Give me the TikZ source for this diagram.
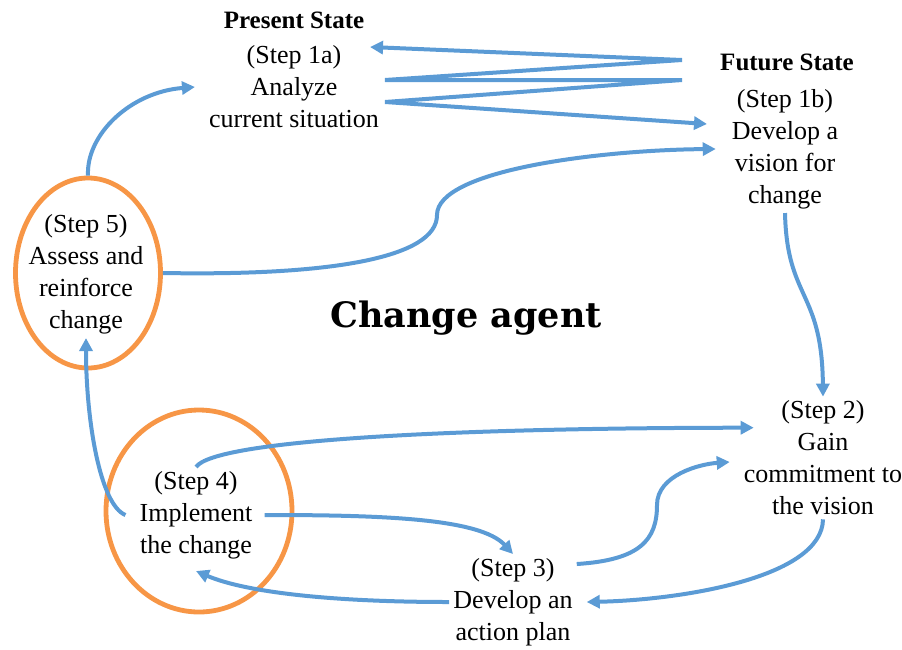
\documentclass[tikz,border=0pt]{standalone}
\usepackage{fontspec}
\setmainfont{Liberation Serif}
\newfontfamily\agentfont{DejaVu Serif}
\usepackage{tikz}
\usetikzlibrary{arrows.meta,shapes.geometric}
\definecolor{flowblue}{RGB}{91,155,213}
\definecolor{ringorange}{RGB}{247,150,70}

\tikzset{
    flowtip/.tip={Triangle[length=13pt,width=13pt]},
    steptext/.style={align=center, inner sep=4pt, font=\fontsize{26}{32}\selectfont},
    statetitle/.style={inner sep=2pt, font=\fontsize{25}{30}\selectfont\bfseries},
    ring/.style={ellipse, draw=ringorange, line width=4.8pt},
    flow/.style={draw=flowblue, line width=4pt, -flowtip},
}

\begin{document}
\begin{tikzpicture}[x=1pt, y=-1pt]
    \useasboundingbox (0,0) rectangle (902,649);

    % States
    \node[statetitle] (present) at (294,20) {Present State};
    \node[steptext] (s1a) at (294,87) {(Step 1a)\\Analyze\\current situation};
    \node[statetitle] (future) at (787,62) {Future State};
    \node[steptext] (s1b) at (785,149) {(Step 1b)\\Develop a\\vision for\\change};

    % Steps of the cycle
    \node[steptext] (s2) at (823,458) {(Step 2)\\Gain\\commitment to\\the vision};
    \node[steptext] (s3) at (513,602) {(Step 3)\\Develop an\\action plan};
    \node[steptext] (s4) at (196,515) {(Step 4)\\Implement\\the change};
    \node[steptext] (s5) at (86,274) {(Step 5)\\Assess and\\reinforce\\change};

    % Rings
    \node[ring, minimum width=145pt, minimum height=190pt] (o5) at (88,273) {};
    \node[ring, minimum width=186pt, minimum height=202pt] (o4) at (199,511) {};

    \node[font=\agentfont\bfseries\fontsize{35}{40}\selectfont] (agent) at (466,318) {Change agent};

    % Zigzag between present and future state
    \coordinate (ztip) at (370,47);
    \coordinate (zr1) at (682,60);
    \coordinate (zl1) at (385,80);
    \coordinate (zr2) at (682,80);
    \coordinate (zl2) at (385,102);
    \coordinate (zend) at (707,124);
    \draw[flow, flowtip-flowtip] (ztip) -- (zr1) -- (zl1) -- (zr2) -- (zl2) -- (zend);

    % Step 5 back to the two states
    \draw[flow] (o5.north) .. controls (86,135) and (130,92) .. ([xshift=-10pt]s1a.west);
    \draw[flow] (o5.east) .. controls (330,276) and (437,258) .. (437,215)
        .. controls (437,170) and (600,150) .. ([xshift=-12pt]s1b.west);

    % Future state to step 2
    \draw[flow] (s1b.south) .. controls (787,300) and (822,290) .. (s2.north);

    % Step 2 and step 3
    \draw[flow] (s2.south) .. controls (822,578) and (680,600) .. ([xshift=10pt]s3.east);
    \draw[flow] ([yshift=-10pt]s3.north east) .. controls (640,560) and (657,540) .. (657,505)
        .. controls (657,475) and (700,464) .. ([xshift=-10pt,yshift=-4pt]s2.west);

    % Step 3 and step 4
    \draw[flow] (s3.west) .. controls (330,602) and (245,592) .. ([yshift=-8pt]s4.south);
    \draw[flow] ([xshift=8pt]s4.east) .. controls (380,515) and (480,518) .. (s3.north);

    % Step 4 on to step 2 and step 5
    \draw[flow] (s4.north) .. controls (215,440) and (450,428) .. ([xshift=14pt]s2.160);
    \draw[flow] ([xshift=-10pt]s4.west) .. controls (100,505) and (86,420) .. (s5.south);
\end{tikzpicture}
\end{document}
